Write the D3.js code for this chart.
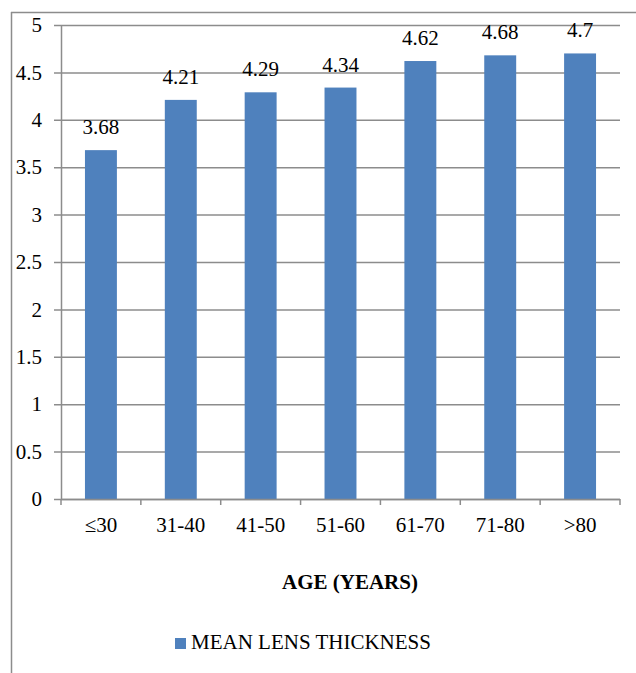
<!DOCTYPE html>
<html lang="en">
<head>
<meta charset="UTF-8">
<title>Mean lens thickness by age</title>
<script src="https://cdn.jsdelivr.net/npm/d3@7"></script>
<style>
    body { margin: 0; background: #fff; }
</style>
</head>
<body>
<script>
const ageGroups = ["\u226430", "31-40", "41-50", "51-60", "61-70", "71-80", ">80"];
const meanThickness = [3.68, 4.21, 4.29, 4.34, 4.62, 4.68, 4.7];
const yTicks = [0, 0.5, 1, 1.5, 2, 2.5, 3, 3.5, 4, 4.5, 5];

const width = 636, height = 673;
const plotLeft = 61, plotRight = 620, plotTop = 25, plotBottom = 499;
const serif = "Liberation Serif";
const fs = 21;

const svg = d3.select("body").append("svg")
    .attr("width", width).attr("height", height)
    .attr("font-family", serif);

// outer frame (left + top only visible)
svg.append("line").attr("x1", 11.5).attr("x2", 11.5).attr("y1", 12).attr("y2", height)
    .attr("stroke", "#8c8c8c").attr("stroke-width", 1.5);
svg.append("line").attr("x1", 11).attr("x2", width).attr("y1", 12.5).attr("y2", 12.5)
    .attr("stroke", "#8c8c8c").attr("stroke-width", 1.5);

const x = d3.scaleBand().domain(ageGroups).range([plotLeft, plotRight]).paddingInner(0.6).paddingOuter(0.3);
const y = d3.scaleLinear().domain([0, 5]).range([plotBottom, plotTop]);

// gridlines
svg.append("g").selectAll("line").data(yTicks).join("line")
    .attr("x1", plotLeft - 7).attr("x2", plotRight)
    .attr("y1", d => y(d) + 0.5).attr("y2", d => y(d) + 0.5)
    .attr("stroke", "#8c8c8c").attr("stroke-width", 1.5);

// y axis
const yAxis = svg.append("g").attr("transform", `translate(${plotLeft},0)`)
    .call(d3.axisLeft(y).tickValues(yTicks).tickSize(0).tickPadding(19).tickFormat(d3.format("")));
yAxis.attr("font-family", serif).attr("font-size", fs);
yAxis.select(".domain").attr("stroke", "#8c8c8c").attr("stroke-width", 1.5);
yAxis.selectAll("text").attr("dy", "0.32em").attr("fill", "#000");

// bars
svg.append("g").selectAll("rect").data(meanThickness).join("rect")
    .attr("x", (d, i) => x(ageGroups[i]))
    .attr("y", d => y(d))
    .attr("width", x.bandwidth())
    .attr("height", d => y(0) - y(d))
    .attr("fill", "#4f81bd");

// value labels
svg.append("g").selectAll("text").data(meanThickness).join("text")
    .attr("x", (d, i) => x(ageGroups[i]) + x.bandwidth() / 2)
    .attr("y", d => y(d) - 16)
    .attr("text-anchor", "middle")
    .attr("font-size", fs)
    .text(d => d);

// x axis
const step = (plotRight - plotLeft) / ageGroups.length;
svg.append("line").attr("x1", plotLeft).attr("x2", plotRight).attr("y1", plotBottom + 0.5).attr("y2", plotBottom + 0.5)
    .attr("stroke", "#8c8c8c").attr("stroke-width", 1.5);
svg.append("g").selectAll("line").data(d3.range(ageGroups.length + 1)).join("line")
    .attr("x1", i => plotLeft + i * step).attr("x2", i => plotLeft + i * step)
    .attr("y1", plotBottom).attr("y2", plotBottom + 6)
    .attr("stroke", "#8c8c8c").attr("stroke-width", 1.5);
svg.append("g").selectAll("text").data(ageGroups).join("text")
    .attr("x", d => x(d) + x.bandwidth() / 2)
    .attr("y", 532)
    .attr("text-anchor", "middle")
    .attr("font-size", fs)
    .text(d => d);

// axis title
svg.append("text")
    .attr("x", 350).attr("y", 589)
    .attr("text-anchor", "middle")
    .attr("font-size", fs).attr("font-weight", "bold")
    .text("AGE (YEARS)");

// legend
svg.append("rect").attr("x", 175).attr("y", 638).attr("width", 11).attr("height", 11).attr("fill", "#4f81bd");
svg.append("text").attr("x", 191).attr("y", 649)
    .attr("font-size", fs)
    .text("MEAN LENS THICKNESS");
</script>
</body>
</html>
